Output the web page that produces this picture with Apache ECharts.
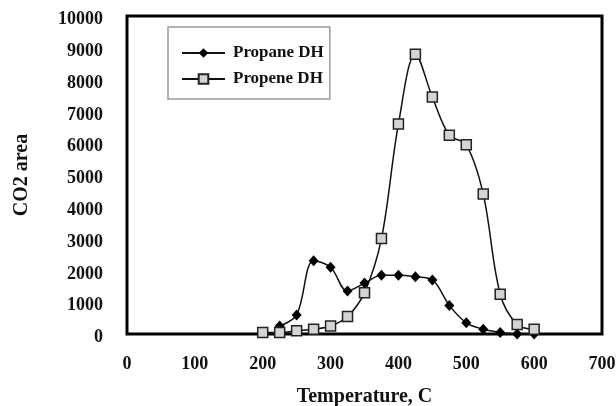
<!DOCTYPE html>
<html><head><meta charset="utf-8">
<script src="https://cdn.jsdelivr.net/npm/echarts@6/dist/echarts.min.js"></script>
<style>html,body{margin:0;padding:0;background:#fff}#c{width:616px;height:406px}</style>
</head><body><div id="c"></div>
<script>
const propaneT = [225,250,275,300,325,350,375,400,425,450,475,500,525,550,575,600];
const propaneV = [250,600,2300,2100,1350,1600,1850,1850,1800,1700,900,350,150,50,0,0];
const propeneT = [200,225,250,275,300,325,350,375,400,425,450,475,500,525,550,575,600];
const propeneV = [50,50,100,150,250,550,1300,3000,6600,8800,7450,6250,5950,4400,1250,300,150];
const xTicks = [0,100,200,300,400,500,600,700];
const yTicks = [0,1000,2000,3000,4000,5000,6000,7000,8000,9000,10000];

const font = '"Liberation Serif","Times New Roman",serif';
const chart = echarts.init(document.getElementById('c'));
chart.setOption({
  animation:false,
  backgroundColor:'#fff',
  textStyle:{fontFamily:font},
  grid:{left:127,right:14,top:16,bottom:72,outerBoundsMode:'none',containLabel:false,
    show:true,borderColor:'#000',borderWidth:3,backgroundColor:'transparent'},
  legend:{
    left:168,top:27,orient:'vertical',
    padding:[17,6,11,13],
    itemGap:8,itemWidth:43,itemHeight:12,
    borderColor:'#999',borderWidth:1.5,
    textStyle:{fontFamily:font,fontWeight:'bold',fontSize:17,lineHeight:18,color:'#111',padding:[0,0,0,3]},
    data:[
      {name:'Propane DH',itemStyle:{color:'#000',borderWidth:0}},
      {name:'Propene DH'}
    ]
  },
  xAxis:{
    type:'value',min:0,max:700,interval:100,
    name:'Temperature, C',nameLocation:'middle',nameGap:53,
    nameTextStyle:{fontFamily:font,fontWeight:'bold',fontSize:20,color:'#111'},
    axisLine:{show:false},axisTick:{show:false},splitLine:{show:false},
    axisLabel:{margin:21,fontFamily:font,fontWeight:'bold',fontSize:18,color:'#111',
      formatter:v=>xTicks.includes(v)?String(v):''}
  },
  yAxis:{
    type:'value',min:0,max:10000,interval:1000,
    name:'CO2 area',nameLocation:'middle',nameGap:95,nameRotate:90,
    nameTextStyle:{fontFamily:font,fontWeight:'bold',fontSize:20,color:'#111'},
    axisLine:{show:false},axisTick:{show:false},splitLine:{show:false},
    axisLabel:{margin:24,fontFamily:font,fontWeight:'bold',fontSize:18,color:'#111',
      formatter:v=>yTicks.includes(v)?'{a|'+v+'}':'',
      rich:{a:{fontFamily:font,fontWeight:'bold',fontSize:18,color:'#111',padding:[7,0,0,0]}}}
  },
  series:[
    {name:'Propane DH',type:'line',smooth:0.35,
     data:propaneT.map((t,i)=>[t,propaneV[i]]),
     symbol:'diamond',symbolSize:[10,11],
     lineStyle:{color:'#111',width:1.5},
     itemStyle:{color:'#000',borderColor:'#000',borderWidth:0},
     color:'#000'},
    {name:'Propene DH',type:'line',smooth:0.35,
     data:propeneT.map((t,i)=>[t,propeneV[i]]),
     symbol:'rect',symbolSize:10,
     lineStyle:{color:'#111',width:1.5},
     itemStyle:{color:'#d4d4d4',borderColor:'#222',borderWidth:1.5},
     color:'#d4d4d4'}
  ]
});
</script></body></html>
